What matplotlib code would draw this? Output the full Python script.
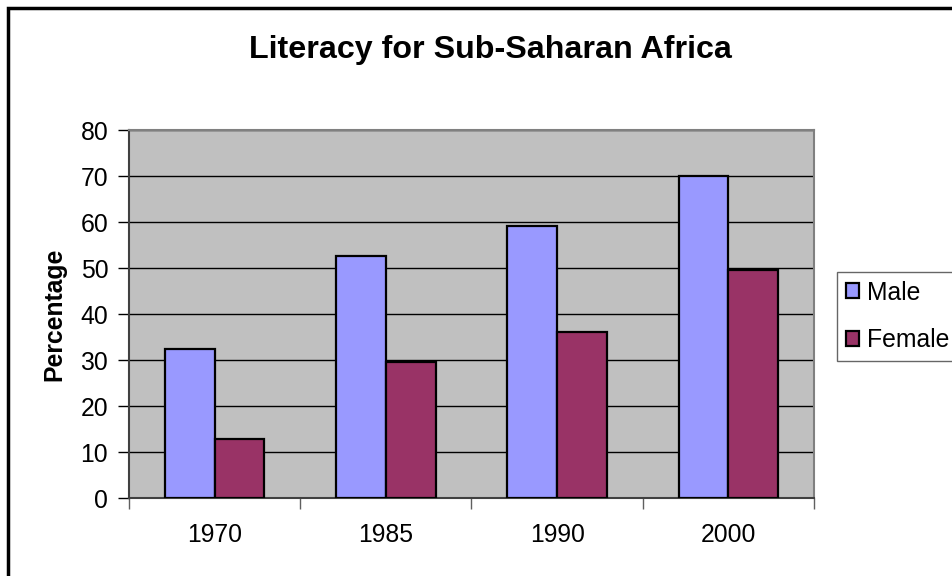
import matplotlib
matplotlib.use("Agg")
import matplotlib.pyplot as plt
from matplotlib.patches import Rectangle
import numpy as np

years = ["1970", "1985", "1990", "2000"]
male = [32.5, 52.6, 59.1, 70.0]
female = [12.9, 29.6, 36.1, 49.6]

plt.rcParams['font.family'] = ['Liberation Sans', 'DejaVu Sans']

W, H = 953, 576
fig = plt.figure(figsize=(W / 100, H / 100), dpi=100)

# outer chart frame (right and bottom run off the picture)
fig.patches.append(Rectangle((8.5 / W, -0.1), 1.2, 1.1 - 8 / H, transform=fig.transFigure,
                             fill=False, edgecolor='black', linewidth=2.5))

ax = fig.add_axes([129 / W, (H - 498) / H, (814 - 129) / W, (498 - 130) / H])
ax.set_facecolor('#C0C0C0')

x = np.arange(len(years))
bw = 0.29
ax.bar(x - bw / 2, male, bw, color='#9999FF', edgecolor='black', linewidth=1.6, label='Male', zorder=3)
ax.bar(x + bw / 2, female, bw, color='#993366', edgecolor='black', linewidth=1.6, label='Female', zorder=3)

ax.set_xlim(-0.5, len(years) - 0.5)
ax.set_ylim(0, 80)
ax.set_yticks(range(0, 81, 10))
ax.yaxis.grid(True, color='black', linewidth=1)
ax.set_axisbelow(True)

ax.set_xticks(np.arange(-0.5, len(years), 1.0))
ax.set_xticklabels([])
ax.set_xticks(x, minor=True)
ax.set_xticklabels(years, minor=True)
ax.tick_params(axis='x', which='major', length=8, width=1, color='#606060')
ax.tick_params(axis='x', which='minor', length=0, pad=18, labelsize=17.8)
ax.tick_params(axis='y', length=8, width=1, labelsize=17.8, pad=7)

for s in ['top', 'right']:
    ax.spines[s].set_color('#808080')
    ax.spines[s].set_linewidth(1.5)
for s in ['left', 'bottom']:
    ax.spines[s].set_color('#404040')
    ax.spines[s].set_linewidth(1.5)

ax.set_ylabel('Percentage', fontsize=17.8, fontweight='bold', labelpad=10)

fig.text(490 / W, 1 - 50 / H, 'Literacy for Sub-Saharan Africa', ha='center', va='center',
         fontsize=23.2, fontweight='bold')

leg = fig.legend(loc='upper left', bbox_to_anchor=(837 / W, 1 - 272 / H), fontsize=17.8,
                 frameon=True, fancybox=False, edgecolor='#404040', handlelength=0.55,
                 handleheight=0.55, handletextpad=0.3, borderpad=0.35, labelspacing=0.95,
                 borderaxespad=0)
leg.get_frame().set_linewidth(1)

fig.savefig('out.png', dpi=100)
